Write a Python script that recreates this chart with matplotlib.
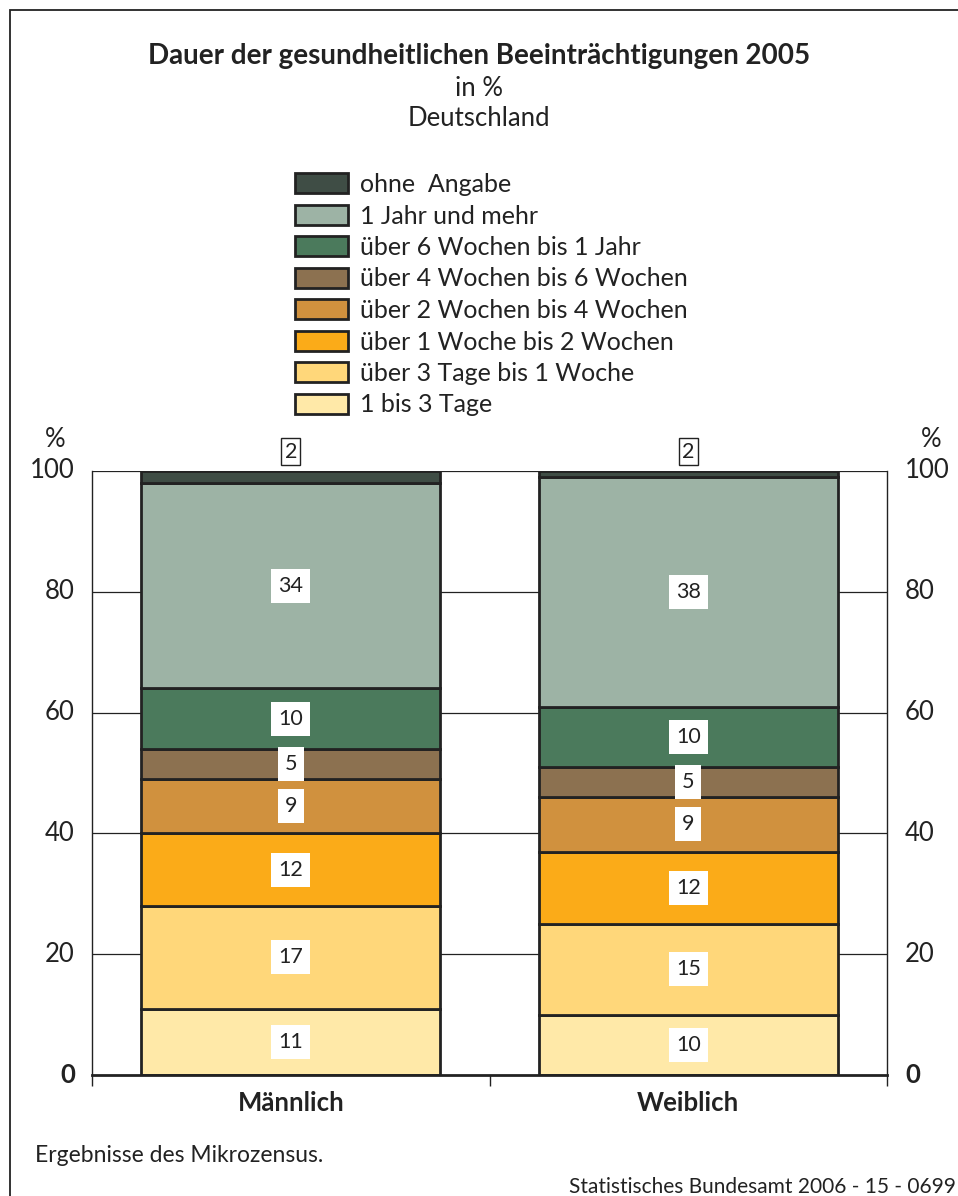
import matplotlib
matplotlib.use('Agg')
import matplotlib.pyplot as plt
from matplotlib.patches import Patch, Rectangle
import numpy as np

plt.rcParams['font.family'] = ['Lato', 'DejaVu Sans']

groups = ['Männlich', 'Weiblich']
categories = ['1 bis 3 Tage', 'über 3 Tage bis 1 Woche', 'über 1 Woche bis 2 Wochen',
              'über 2 Wochen bis 4 Wochen', 'über 4 Wochen bis 6 Wochen',
              'über 6 Wochen bis 1 Jahr', '1 Jahr und mehr', 'ohne  Angabe']
maennlich = [11, 17, 12, 9, 5, 10, 34, 2]
weiblich = [10, 15, 12, 9, 5, 10, 38, 2]
colors = ['#ffe9a8', '#ffd77a', '#fbab18', '#d0913e', '#8c7150',
          '#4b7a5c', '#9db3a5', '#3f4d45']
yticks = [0, 20, 40, 60, 80, 100]

fig = plt.figure(figsize=(9.58, 11.96), dpi=100)
# frame around the whole chart (only top and left visible in the original)
fig.add_artist(Rectangle((10 / 958, -0.01), 1.0, 1 - 10 / 1196 + 0.01,
                         transform=fig.transFigure, fill=False,
                         edgecolor='#222222', linewidth=1.3))

ax = fig.add_axes([92 / 958, 1 - 1075 / 1196, 795 / 958, 604 / 1196])
ax.set_xlim(0, 2)
ax.set_ylim(0, 100)

for y in yticks[1:]:
    ax.axhline(y, color='#222222', linewidth=0.9, zorder=1)

xpos = np.array([0.5, 1.5])
width = 299 / 397.5
for i, vals in enumerate([maennlich, weiblich]):
    bottom = 0
    for j, v in enumerate(vals):
        h = min(bottom + v, 100) - bottom
        ax.bar(xpos[i], h, width, bottom=bottom, color=colors[j],
               edgecolor='#222222', linewidth=2, zorder=2)
        if j < len(vals) - 1:
            ax.text(xpos[i], bottom + h / 2, str(v), ha='center', va='center',
                    fontsize=15.5, color='#222222', zorder=3,
                    bbox=dict(facecolor='white', edgecolor='none', pad=5))
        else:
            ax.text(xpos[i], 103.2, str(v), ha='center', va='center',
                    fontsize=15.5, color='#222222', zorder=3,
                    bbox=dict(facecolor='white', edgecolor='#222222',
                              linewidth=1, pad=2.5), clip_on=False)
        bottom += h

ax.spines['top'].set_visible(False)
for s in ['left', 'right', 'bottom']:
    ax.spines[s].set_color('#222222')
ax.spines['bottom'].set_linewidth(2)
ax.spines['left'].set_linewidth(1)
ax.spines['right'].set_linewidth(1)

ax.set_xticks([0, 1, 2])
ax.set_xticklabels([])
ax.tick_params(axis='x', length=8, width=1, color='#222222', direction='out')
for i, g in enumerate(groups):
    ax.text(xpos[i], -2.6, g, ha='center', va='top', fontsize=18.5,
            fontweight='bold', color='#222222')

ax.set_yticks(yticks)
ax.set_yticklabels([])
ax.tick_params(axis='y', length=0)
for y in yticks:
    w = 'bold' if y == 0 else 'normal'
    ax.text(-0.043, y, str(y), ha='right', va='center', fontsize=18.5,
            fontweight=w, color='#222222')
    ax.text(2.045, y, str(y), ha='left', va='center', fontsize=18.5,
            fontweight=w, color='#222222')
ax.text(-0.092, 105.2, '%', ha='center', va='center', fontsize=18.5, color='#222222')
ax.text(2.11, 105.2, '%', ha='center', va='center', fontsize=18.5, color='#222222')

fig.text(0.5, 1 - 56 / 1196, 'Dauer der gesundheitlichen Beeinträchtigungen 2005',
         ha='center', va='center', fontsize=20, fontweight='bold', color='#222222')
fig.text(0.5, 1 - 89 / 1196, 'in %', ha='center', va='center', fontsize=18.5,
         color='#222222')
fig.text(0.5, 1 - 119 / 1196, 'Deutschland', ha='center', va='center',
         fontsize=18.5, color='#222222')

handles = [Patch(facecolor=c, edgecolor='#222222', linewidth=2, label=l)
           for c, l in zip(colors[::-1], categories[::-1])]
fig.legend(handles=handles, loc='upper left',
           bbox_to_anchor=(295 / 958, 1 - 173 / 1196), frameon=False,
           fontsize=18, handlelength=2.1, handleheight=0.85, labelspacing=0.34,
           handletextpad=0.5, borderaxespad=0, borderpad=0,
           labelcolor='#222222')

fig.text(35 / 958, 1 - 1155 / 1196, 'Ergebnisse des Mikrozensus.', ha='left',
         va='center', fontsize=16.5, color='#222222')
fig.text(956 / 958, 1 - 1187 / 1196, 'Statistisches Bundesamt 2006 - 15 - 0699',
         ha='right', va='center', fontsize=15, color='#222222')

fig.savefig('out.png', dpi=100)
